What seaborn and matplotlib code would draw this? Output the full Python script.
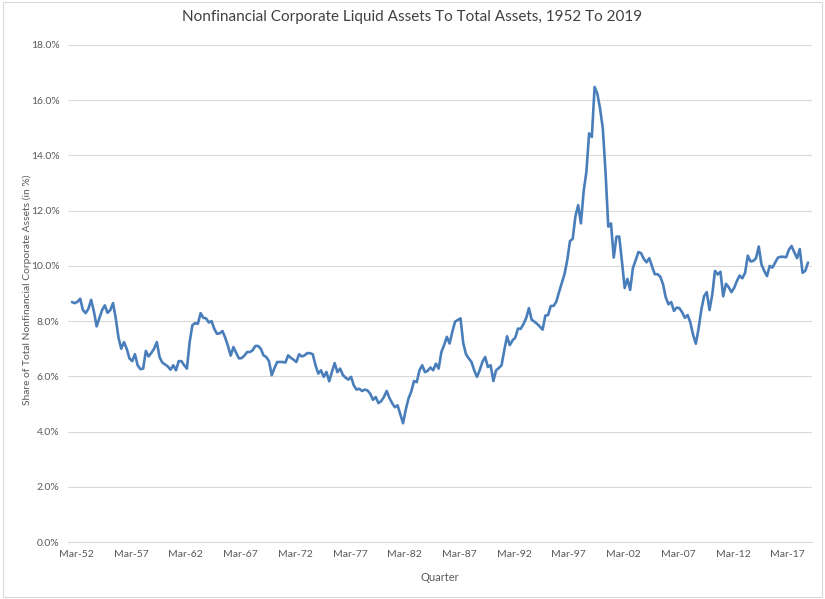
import numpy as np
import pandas as pd
import matplotlib
matplotlib.use("Agg")
import matplotlib.pyplot as plt
import seaborn as sns

# Quarterly share (%) of liquid assets in total assets, starting Mar-1952
vals_1952_1965 = [8.69, 8.65, 8.70, 8.81, 8.40, 8.29, 8.45, 8.77, 8.35, 7.81,
                  8.10, 8.40, 8.57, 8.30, 8.40, 8.65, 8.10, 7.40, 7.00, 7.24,
                  7.00, 6.65, 6.55, 6.80, 6.40, 6.26, 6.28, 6.92, 6.72, 6.85,
                  7.00, 7.24, 6.70, 6.50, 6.43, 6.36, 6.24, 6.40, 6.22, 6.55,
                  6.55, 6.40, 6.28, 7.24, 7.85, 7.93, 7.90, 8.29, 8.12, 8.10,
                  7.95, 8.00, 7.72, 7.54]
vals_1965_1978 = [7.56, 7.64, 7.40, 7.10, 6.75, 7.06, 6.85, 6.65, 6.66, 6.75,
                  6.88, 6.88, 6.94, 7.10, 7.10, 7.00, 6.76, 6.70, 6.55, 6.04,
                  6.30, 6.52, 6.52, 6.52, 6.50, 6.76, 6.67, 6.60, 6.52, 6.80,
                  6.72, 6.76, 6.84, 6.84, 6.80, 6.40, 6.10, 6.22, 5.98, 6.16,
                  5.82, 6.16, 6.48, 6.15, 6.28, 6.05, 5.95, 5.88, 5.98, 5.67,
                  5.52, 5.55, 5.47, 5.52]
vals_1979_1992 = [5.49, 5.37, 5.15, 5.25, 5.03, 5.10, 5.25, 5.47, 5.22, 5.03,
                  4.88, 4.95, 4.62, 4.30, 4.80, 5.20, 5.45, 5.83, 5.79, 6.22,
                  6.40, 6.15, 6.20, 6.32, 6.22, 6.46, 6.28, 6.88, 7.13, 7.43,
                  7.19, 7.61, 7.98, 8.04, 8.10, 7.20, 6.80, 6.65, 6.52, 6.22,
                  5.98, 6.22, 6.52, 6.70, 6.34, 6.40, 5.83, 6.22, 6.30, 6.40,
                  6.95, 7.45, 7.13, 7.30, 7.40, 7.73]
vals_1993_2006 = [7.72, 7.89, 8.11, 8.47, 8.05, 7.98, 7.90, 7.80, 7.69, 8.20,
                  8.22, 8.55, 8.55, 8.70, 9.05, 9.37, 9.70, 10.20, 10.90, 10.98,
                  11.80, 12.20, 11.54, 12.70, 13.40, 14.80, 14.67, 16.48, 16.24, 15.70,
                  14.98, 13.40, 11.42, 11.54, 10.30, 11.06, 11.06, 10.16, 9.20, 9.53,
                  9.13, 9.92, 10.20, 10.50, 10.46, 10.25, 10.13, 10.28, 9.98, 9.70,
                  9.70, 9.61, 9.34, 8.86, 8.61]
vals_2006_2019 = [8.69, 8.37, 8.49, 8.47, 8.32, 8.12, 8.22, 7.95, 7.50, 7.18,
                  7.73, 8.40, 8.90, 9.05, 8.40, 8.96, 9.82, 9.69, 9.79, 8.90,
                  9.35, 9.23, 9.05, 9.20, 9.45, 9.65, 9.55, 9.75, 10.37, 10.16,
                  10.18, 10.28, 10.70, 10.05, 9.82, 9.63, 10.00, 9.94, 10.12, 10.30,
                  10.33, 10.33, 10.31, 10.58, 10.72, 10.49, 10.28, 10.61, 9.75, 9.82,
                  10.12]

x_tick_labels = ["Mar-52", "Mar-57", "Mar-62", "Mar-67", "Mar-72", "Mar-77", "Mar-82",
                 "Mar-87", "Mar-92", "Mar-97", "Mar-02", "Mar-07", "Mar-12", "Mar-17"]
y_ticks = [0, 2, 4, 6, 8, 10, 12, 14, 16, 18]

values = vals_1952_1965 + vals_1965_1978 + vals_1979_1992 + vals_1993_2006 + vals_2006_2019
df = pd.DataFrame({"q": np.arange(len(values)), "share": values})

sns.set_style("white")
plt.rcParams["font.family"] = ["Lato", "DejaVu Sans"]

fig = plt.figure(figsize=(8.25, 5.99), dpi=100)
ax = fig.add_axes([68 / 825, 1 - 542 / 599, (812 - 68) / 825, (542 - 45) / 599])

grey = "#595959"
ax.set_ylim(0, 18)
ax.set_xlim(-1.46, len(values) - 1 + 1.46)
ax.set_yticks(y_ticks)
ax.set_yticklabels([f"{t:.1f}%" for t in y_ticks], color=grey, fontsize=7.5)
ax.set_xticks(np.arange(len(x_tick_labels)) * 20 + 1.6)
ax.set_xticklabels(x_tick_labels, color=grey, fontsize=7.5)
ax.tick_params(axis="both", length=0, pad=6)
ax.yaxis.grid(True, color="#D9D9D9", linewidth=0.8)
ax.set_axisbelow(True)
for s in ["top", "right", "left"]:
    ax.spines[s].set_visible(False)
ax.spines["bottom"].set_color("#D9D9D9")
ax.spines["bottom"].set_linewidth(0.8)

sns.lineplot(data=df, x="q", y="share", ax=ax, color="#4A7EBB", linewidth=1.9)

ax.set_xlabel("Quarter", color=grey, fontsize=8, labelpad=9)
ax.set_ylabel("")
fig.text(27 / 825, 1 - 290 / 599, "Share of Total Nonfinancial Corporate Assets (in %)",
         rotation=90, ha="center", va="center", color=grey, fontsize=7.4)
fig.text(0.5, 1 - 17 / 599, "Nonfinancial Corporate Liquid Assets To Total Assets, 1952 To 2019",
         ha="center", va="center", fontsize=11, color="#404040")

fig.patches.append(plt.Rectangle((0.004, 0.004), 0.992, 0.992, transform=fig.transFigure,
                                 fill=False, edgecolor="#D9D9D9", linewidth=0.8))

fig.savefig("out.png", dpi=100)
